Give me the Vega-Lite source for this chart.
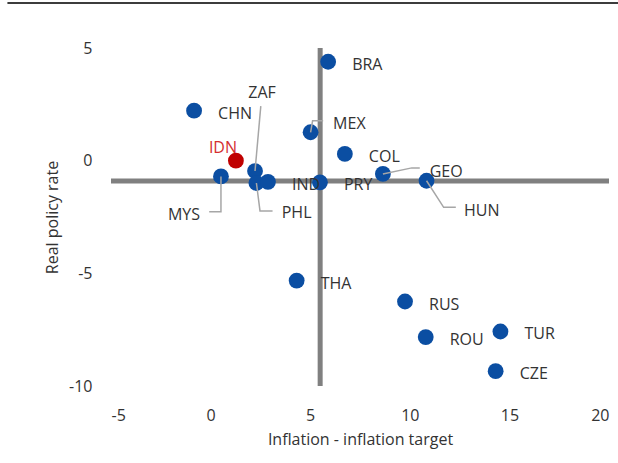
{
  "$schema": "https://vega.github.io/schema/vega-lite/v6.json",
  "width": 498,
  "height": 338,
  "autosize": {"type": "none"},
  "padding": {"left": 111, "top": 48, "right": 9, "bottom": 77},
  "background": "white",
  "config": {
    "view": {"stroke": null},
    "font": "Open Sans",
    "axis": {"grid": false, "domain": false, "ticks": false, "labelFont": "Open Sans", "titleFont": "Open Sans", "labelFontSize": 16, "titleFontSize": 16, "labelColor": "#333333", "titleColor": "#333333", "titleFontWeight": "normal", "labelExpr": "'' + datum.value"}
  },
  "datasets": {
    "pts": [
      {"c": "BRA", "x": 5.90, "y": 4.39, "g": "other", "pos": "right"},
      {"c": "CHN", "x": -0.83, "y": 2.22, "g": "other", "pos": "right"},
      {"c": "MEX", "x": 5.02, "y": 1.26, "g": "other", "pos": "leader"},
      {"c": "COL", "x": 6.74, "y": 0.30, "g": "other", "pos": "right"},
      {"c": "IDN", "x": 1.27, "y": 0.0, "g": "IDN", "pos": "leader"},
      {"c": "ZAF", "x": 2.23, "y": -0.46, "g": "other", "pos": "leader"},
      {"c": "MYS", "x": 0.52, "y": -0.70, "g": "other", "pos": "leader"},
      {"c": "PHL", "x": 2.30, "y": -0.99, "g": "other", "pos": "leader"},
      {"c": "IND", "x": 2.88, "y": -0.94, "g": "other", "pos": "right"},
      {"c": "PRY", "x": 5.49, "y": -0.96, "g": "other", "pos": "right"},
      {"c": "GEO", "x": 8.65, "y": -0.59, "g": "other", "pos": "leader"},
      {"c": "HUN", "x": 10.84, "y": -0.89, "g": "other", "pos": "leader"},
      {"c": "THA", "x": 4.32, "y": -5.32, "g": "other", "pos": "right"},
      {"c": "RUS", "x": 9.76, "y": -6.25, "g": "other", "pos": "right"},
      {"c": "ROU", "x": 10.80, "y": -7.83, "g": "other", "pos": "right"},
      {"c": "TUR", "x": 14.55, "y": -7.58, "g": "other", "pos": "right"},
      {"c": "CZE", "x": 14.31, "y": -9.34, "g": "other", "pos": "right"}
    ],
    "refs": [
      {"x1": 5.5, "x2": 5.5, "y1": -10, "y2": 5},
      {"x1": -5, "x2": 20, "y1": -0.9, "y2": -0.9}
    ],
    "border": [
      {"x1": -10.2, "x2": 20.5, "y1": 7.0, "y2": 7.0}
    ],
    "leaders": [
      {"c": "MEX", "o": 0, "x": 5.02, "y": 1.26},
      {"c": "MEX", "o": 1, "x": 5.12, "y": 1.77},
      {"c": "MEX", "o": 2, "x": 5.65, "y": 1.77},
      {"c": "ZAF", "o": 0, "x": 2.23, "y": -0.46},
      {"c": "ZAF", "o": 1, "x": 2.52, "y": 2.42},
      {"c": "MYS", "o": 0, "x": 0.52, "y": -0.70},
      {"c": "MYS", "o": 1, "x": 0.52, "y": -2.27},
      {"c": "MYS", "o": 2, "x": -0.07, "y": -2.27},
      {"c": "PHL", "o": 0, "x": 2.30, "y": -0.99},
      {"c": "PHL", "o": 1, "x": 2.48, "y": -2.23},
      {"c": "PHL", "o": 2, "x": 3.11, "y": -2.23},
      {"c": "GEO", "o": 0, "x": 8.65, "y": -0.59},
      {"c": "GEO", "o": 1, "x": 10.10, "y": -0.32},
      {"c": "GEO", "o": 2, "x": 10.50, "y": -0.32},
      {"c": "HUN", "o": 0, "x": 10.84, "y": -0.89},
      {"c": "HUN", "o": 1, "x": 11.70, "y": -2.07},
      {"c": "HUN", "o": 2, "x": 12.31, "y": -2.07}
    ],
    "leaderLabels": [
      {"c": "MEX", "lx": 6.15, "ly": 1.70, "a": "left"},
      {"c": "PHL", "lx": 3.57, "ly": -2.25, "a": "left"},
      {"c": "GEO", "lx": 11.0, "ly": -0.40, "a": "left"},
      {"c": "HUN", "lx": 12.72, "ly": -2.14, "a": "left"},
      {"c": "MYS", "lx": -0.53, "ly": -2.31, "a": "right"},
      {"c": "ZAF", "lx": 2.58, "ly": 3.09, "a": "center"},
      {"c": "IDN", "lx": 0.62, "ly": 0.65, "a": "center"}
    ]
  },
  "layer": [
    {
      "data": {"name": "refs"},
      "mark": {"type": "rule", "stroke": "#808080", "strokeWidth": 5},
      "encoding": {
        "x": {"field": "x1", "type": "quantitative", "scale": {"domain": [-5, 20], "nice": false}, "axis": {"values": [-5, 0, 5, 10, 15, 20], "title": "Inflation - inflation target", "labelPadding": 21, "titlePadding": 8}},
        "x2": {"field": "x2"},
        "y": {"field": "y1", "type": "quantitative", "scale": {"domain": [-10, 5], "nice": false}, "axis": {"values": [-10, -5, 0, 5], "title": "Real policy rate", "labelPadding": 19, "titlePadding": 8}},
        "y2": {"field": "y2"}
      }
    },
    {
      "data": {"name": "border"},
      "mark": {"type": "rule", "stroke": "#3C3C3C", "strokeWidth": 2, "clip": false},
      "encoding": {
        "x": {"field": "x1", "type": "quantitative"},
        "x2": {"field": "x2"},
        "y": {"field": "y1", "type": "quantitative"},
        "y2": {"field": "y2"}
      }
    },
    {
      "data": {"name": "pts"},
      "mark": {"type": "circle", "size": 250, "opacity": 1},
      "encoding": {
        "x": {"field": "x", "type": "quantitative"},
        "y": {"field": "y", "type": "quantitative"},
        "color": {"field": "g", "type": "nominal", "scale": {"domain": ["other", "IDN"], "range": ["#0B4EA2", "#C00000"]}, "legend": null}
      }
    },
    {
      "data": {"name": "leaders"},
      "mark": {"type": "line", "stroke": "#A6A6A6", "strokeWidth": 1.5},
      "encoding": {
        "x": {"field": "x", "type": "quantitative"},
        "y": {"field": "y", "type": "quantitative"},
        "detail": {"field": "c"},
        "order": {"field": "o"}
      }
    },
    {
      "data": {"name": "pts"},
      "transform": [{"filter": "datum.pos === 'right'"}],
      "mark": {"type": "text", "align": "left", "baseline": "middle", "dx": 24, "dy": 3, "fontSize": 16, "font": "Open Sans", "fill": "#333333"},
      "encoding": {
        "x": {"field": "x", "type": "quantitative"},
        "y": {"field": "y", "type": "quantitative"},
        "text": {"field": "c"}
      }
    },
    {
      "data": {"name": "leaderLabels"},
      "transform": [{"filter": "datum.a === 'left'"}],
      "mark": {"type": "text", "align": "left", "baseline": "middle", "dy": 2, "fontSize": 16, "font": "Open Sans", "fill": "#333333"},
      "encoding": {
        "x": {"field": "lx", "type": "quantitative"},
        "y": {"field": "ly", "type": "quantitative"},
        "text": {"field": "c"}
      }
    },
    {
      "data": {"name": "leaderLabels"},
      "transform": [{"filter": "datum.a === 'right'"}],
      "mark": {"type": "text", "align": "right", "baseline": "middle", "dy": 2, "fontSize": 16, "font": "Open Sans", "fill": "#333333"},
      "encoding": {
        "x": {"field": "lx", "type": "quantitative"},
        "y": {"field": "ly", "type": "quantitative"},
        "text": {"field": "c"}
      }
    },
    {
      "data": {"name": "leaderLabels"},
      "transform": [{"filter": "datum.a === 'center'"}],
      "mark": {"type": "text", "align": "center", "baseline": "middle", "dy": 2, "fontSize": 16, "font": "Open Sans"},
      "encoding": {
        "x": {"field": "lx", "type": "quantitative"},
        "y": {"field": "ly", "type": "quantitative"},
        "text": {"field": "c"},
        "color": {"condition": {"test": "datum.c === 'IDN'", "value": "#D42F2F"}, "value": "#333333"}
      }
    }
  ]
}
